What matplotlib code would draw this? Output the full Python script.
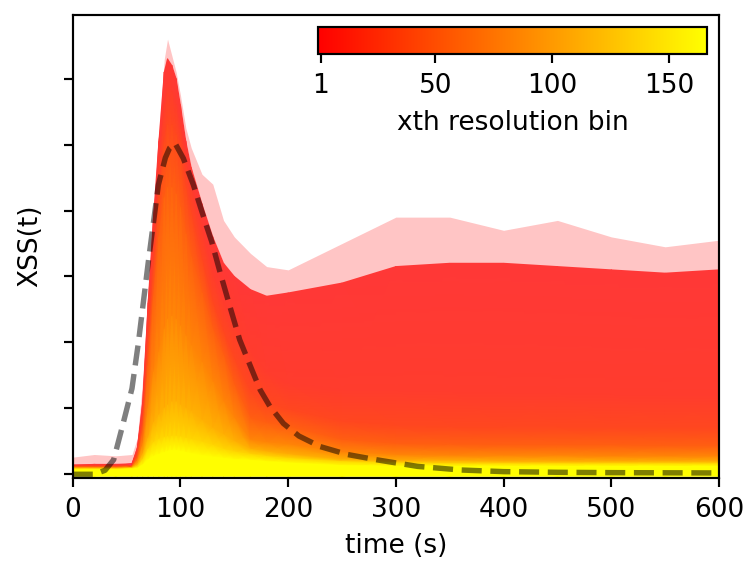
import numpy as np
import matplotlib
matplotlib.use("Agg")
import matplotlib.pyplot as plt
from matplotlib.colors import Normalize, ListedColormap
from matplotlib.cm import ScalarMappable

S = 1.95  # scale of the reference rendering
plt.rcParams.update({
    "font.family": ["DejaVu Sans"],
    "font.size": 19,
    "axes.linewidth": 0.8 * S,
    "xtick.major.size": 3.5 * S, "ytick.major.size": 3.5 * S,
    "xtick.major.width": 0.8 * S, "ytick.major.width": 0.8 * S,
    "xtick.major.pad": 3.5 * S, "ytick.major.pad": 3.5 * S,
    "axes.labelpad": 4.0 * S,
})

# ---- data ----
time_knots = [0, 20, 40, 55, 60, 65, 70, 75, 80, 85, 88, 92, 96, 100, 105, 110,
              120, 130, 140, 150, 165, 180, 200, 250, 300, 350, 400, 450, 500, 550, 600]

bin_ids = [1, 12, 30, 55, 85, 115, 140, 165]

xss_bin1 = [0.14, 0.15, 0.15, 0.16, 0.40, 1.10, 2.60, 3.90, 5.05, 6.10, 6.30, 6.20, 6.00, 5.60, 5.05, 4.65,
            4.10, 3.60, 3.20, 3.00, 2.80, 2.70, 2.75, 2.90, 3.15, 3.20, 3.20, 3.15, 3.10, 3.05, 3.10]
xss_bin12 = [0.13, 0.13, 0.13, 0.14, 0.35, 0.95, 2.35, 3.55, 4.65, 5.60, 5.85, 5.80, 5.60, 5.25, 4.75, 4.35,
             3.70, 3.05, 2.60, 2.30, 1.85, 1.55, 1.38, 1.28, 1.28, 1.26, 1.24, 1.24, 1.22, 1.20, 1.20]
xss_bin30 = [0.12, 0.12, 0.12, 0.13, 0.30, 0.80, 2.00, 3.10, 4.25, 5.05, 5.30, 5.30, 5.15, 4.85, 4.35, 3.95,
             3.25, 2.60, 2.15, 1.75, 1.25, 1.08, 0.98, 0.80, 0.74, 0.72, 0.71, 0.71, 0.70, 0.70, 0.70]
xss_bin55 = [0.11, 0.11, 0.11, 0.12, 0.25, 0.65, 1.65, 2.70, 3.60, 4.20, 4.35, 4.35, 4.25, 4.05, 3.65, 3.30,
             2.75, 2.20, 1.80, 1.35, 0.85, 0.78, 0.72, 0.52, 0.46, 0.45, 0.44, 0.44, 0.44, 0.43, 0.43]
xss_bin85 = [0.10, 0.10, 0.10, 0.11, 0.20, 0.45, 1.00, 1.55, 1.85, 2.20, 2.35, 2.40, 2.35, 2.25, 2.10, 1.95,
             1.70, 1.40, 1.10, 0.85, 0.52, 0.48, 0.45, 0.33, 0.29, 0.28, 0.28, 0.28, 0.27, 0.27, 0.27]
xss_bin115 = [0.09, 0.09, 0.09, 0.10, 0.15, 0.30, 0.55, 0.78, 0.90, 1.00, 1.05, 1.10, 1.10, 1.05, 1.00, 0.95,
              0.82, 0.70, 0.60, 0.50, 0.38, 0.34, 0.30, 0.22, 0.20, 0.20, 0.19, 0.19, 0.19, 0.19, 0.19]
xss_bin140 = [0.08, 0.08, 0.08, 0.09, 0.12, 0.22, 0.38, 0.48, 0.53, 0.56, 0.57, 0.58, 0.58, 0.57, 0.55, 0.53,
              0.49, 0.44, 0.38, 0.34, 0.30, 0.27, 0.24, 0.19, 0.17, 0.16, 0.16, 0.16, 0.16, 0.16, 0.16]
xss_bin165 = [0.07, 0.07, 0.07, 0.08, 0.09, 0.14, 0.22, 0.27, 0.30, 0.33, 0.35, 0.36, 0.36, 0.35, 0.33, 0.31,
              0.28, 0.26, 0.24, 0.22, 0.21, 0.19, 0.17, 0.13, 0.12, 0.12, 0.12, 0.12, 0.12, 0.12, 0.12]
xss_floor = [-0.03] * len(time_knots)

# spike tips of the lowest bins (upper fringe)
xss_bin1_spikes = [0.26, 0.30, 0.28, 0.30, 0.55, 1.45, 2.75, 4.00, 5.20, 6.30, 6.60, 6.35, 6.10, 5.75, 5.25, 4.95,
                   4.55, 4.40, 3.85, 3.60, 3.35, 3.15, 3.10, 3.50, 3.90, 3.90, 3.70, 3.85, 3.60, 3.45, 3.55]

# dashed reference curve
ref_t = [0, 20, 30, 38, 46, 55, 61, 70, 79.5, 86, 90, 95, 102.7, 112, 122.9, 129, 137, 146, 155,
         167.7, 174, 183, 195.6, 210, 229.7, 255, 282, 320, 360, 400, 450, 500, 600]
ref_xss = [0, 0, 0.06, 0.22, 0.72, 1.30, 2.00, 3.20, 4.39, 4.80, 4.95, 5.02, 4.79, 4.39, 3.83, 3.53,
           3.05, 2.54, 2.04, 1.53, 1.28, 1.03, 0.77, 0.58, 0.42, 0.30, 0.22, 0.12, 0.065, 0.04, 0.03,
           0.025, 0.02]

cbar_ticks = [1, 50, 100, 150]
n_bins_max = 166

# ---- figure ----
fig = plt.figure(figsize=(7.49, 5.63), dpi=100)
ax = fig.add_axes([0.0971, 0.1515, 0.8629, 0.8224])

cmap = plt.get_cmap("autumn")
norm = Normalize(vmin=0, vmax=n_bins_max)

# lines of the low bins overlap loosely (white gaps); lighten reds slightly
base = cmap(np.linspace(0, 1, 256))
w = 0.22 * (1 - np.linspace(0, 1, 256)) ** 3
lite = base.copy()
lite[:, :3] = base[:, :3] * (1 - w[:, None]) + w[:, None]
mesh_cmap = ListedColormap(lite)

levels = [xss_bin1, xss_bin12, xss_bin30, xss_bin55, xss_bin85,
          xss_bin115, xss_bin140, xss_bin165, xss_floor]
level_bins = bin_ids + [bin_ids[-1]]
X = np.tile(np.asarray(time_knots, float), (len(levels), 1))
Y = np.asarray(levels, float)
C = np.repeat(np.asarray(level_bins, float)[:, None], len(time_knots), axis=1)

ax.fill_between(time_knots, xss_bin1, xss_bin1_spikes, color=(1.0, 0.25, 0.25),
                alpha=0.3, linewidth=0, zorder=1)
ax.pcolormesh(X, Y, C, shading="gouraud", cmap=mesh_cmap, norm=norm,
              antialiased=False, zorder=2)

ax.plot(ref_t, ref_xss, ls="--", color="k", alpha=0.5, lw=2 * S, zorder=5)

ax.set_xlim(0, 600)
ax.set_ylim(-0.052, 6.97)
ax.set_xticks([0, 100, 200, 300, 400, 500, 600])
ax.set_yticks([0, 1, 2, 3, 4, 5, 6])
ax.set_yticklabels([])
ax.set_xlabel("time (s)")
ax.set_ylabel("XSS(t)")

cax = fig.add_axes([0.425, 0.904, 0.5186, 0.0474])
sm = ScalarMappable(norm=norm, cmap=cmap)
cb = fig.colorbar(sm, cax=cax, orientation="horizontal", ticks=cbar_ticks)
cb.outline.set_linewidth(0.8 * S)
cb.set_label("xth resolution bin")
cax.tick_params(length=3.5 * S, width=0.8 * S)

fig.savefig("out.png", dpi=100)
